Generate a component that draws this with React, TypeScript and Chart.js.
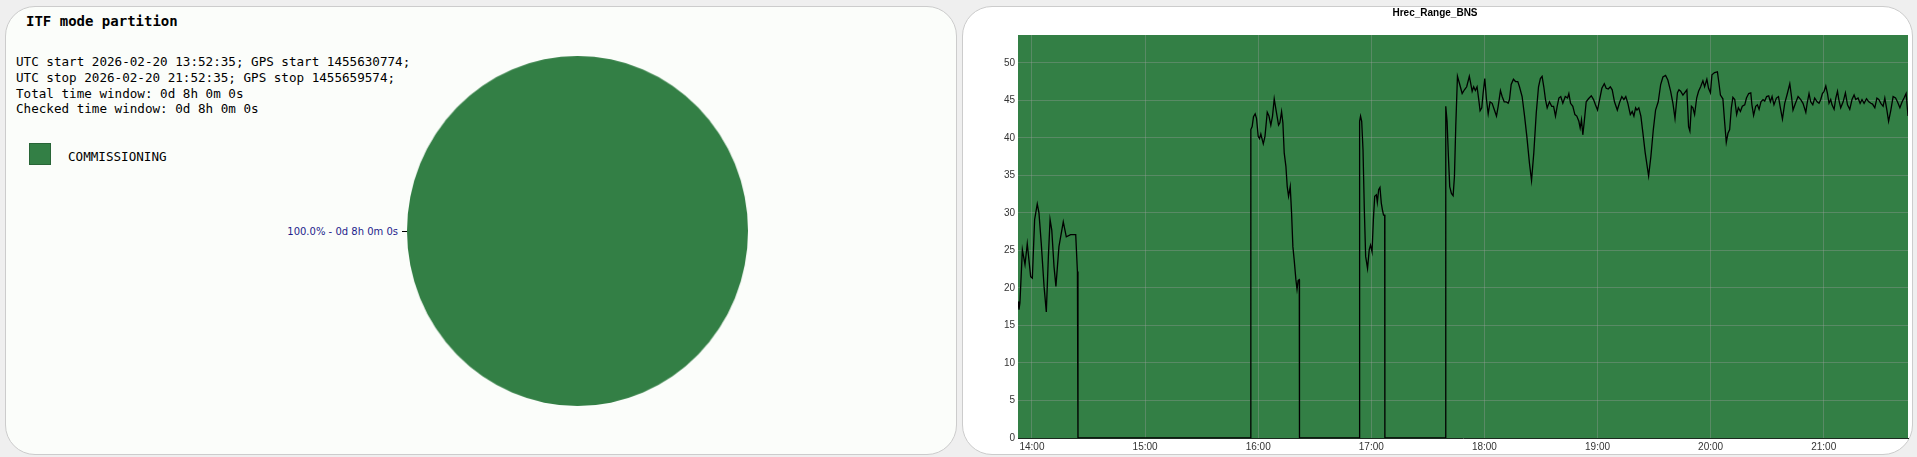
import React, { useEffect, useRef } from "react";
import { Chart, registerables } from "chart.js";

Chart.register(...registerables);

// ---------- data ----------
const infoLines = [
  "UTC start 2026-02-20 13:52:35; GPS start 1455630774;",
  "UTC stop 2026-02-20 21:52:35; GPS stop 1455659574;",
  "Total time window: 0d 8h 0m 0s",
  "Checked time window: 0d 8h 0m 0s",
];
const modeLabels = ["COMMISSIONING"];
const modePercent = [100.0];
const modeDuration = ["0d 8h 0m 0s"];

const xTickLabels = ["14:00", "15:00", "16:00", "17:00", "18:00", "19:00", "20:00", "21:00"];
const yTickValues = [0, 5, 10, 15, 20, 25, 30, 35, 40, 45, 50];
const xMinMinutes = 832.583; // 13:52:35
const xMaxMinutes = 1304.7;
const yMax = 53.7;

// time in minutes since 00:00 UTC, BNS range in Mpc
const seg1T = [832.6, 833.1, 833.6, 834.9, 836.3, 837.5, 839.3, 840.2, 841.4, 842.8, 843.7, 844.9, 846.4, 847.6, 848.7, 849.6, 850.5, 851.7, 852.7, 854.3, 856.6, 858.2, 860.5, 863.2, 864.1];
const seg1V = [18.2, 17.1, 18.0, 25.1, 23.1, 25.9, 21.5, 21.3, 29.1, 31.2, 30.0, 26.0, 20.2, 16.8, 24.2, 29.1, 27.7, 22.8, 20.2, 25.5, 28.8, 26.8, 27.1, 27.1, 22.2];
const gap1T = [864.4, 956.0];
const gap1V = [0, 0];
const seg2T = [956.1, 956.8, 957.5, 958.4, 959.1, 960.0, 960.7, 961.4, 962.7, 963.6, 964.8, 965.7, 966.7, 967.6, 968.5, 969.6, 970.8, 971.5, 972.4, 973.1, 973.8, 974.7, 975.4, 976.1, 977.0, 977.7, 978.4, 979.1, 980.0, 980.6, 981.2, 981.8];
const seg2V = [41.1, 41.5, 42.8, 43.2, 42.6, 40.2, 39.9, 40.5, 39.2, 40.2, 43.4, 42.9, 41.7, 42.9, 45.2, 43.5, 41.7, 42.0, 43.5, 42.0, 38.0, 36.2, 33.5, 32.2, 33.5, 30.0, 25.5, 23.7, 21.1, 19.8, 21.0, 21.1];
const gap2T = [981.9, 1013.7];
const gap2V = [0, 0];
const seg3T = [1013.8, 1014.3, 1014.9, 1015.6, 1016.3, 1017.0, 1018.0, 1018.9, 1019.6, 1020.4, 1021.1, 1021.8, 1022.7, 1023.2, 1023.9, 1024.6, 1025.3, 1025.9, 1026.5, 1027.1];
const seg3V = [42.2, 42.9, 42.2, 38.4, 30.4, 24.2, 22.6, 25.1, 25.7, 24.8, 29.1, 32.2, 32.4, 31.4, 33.1, 33.4, 31.3, 30.4, 29.7, 29.7];
const gap3T = [1027.2, 1059.4];
const gap3V = [0, 0];
const seg4T = [
  1059.5, 1060.2, 1060.9, 1061.6, 1062.5, 1063.4, 1064.1, 1064.8, 1065.7, 1066.7, 1068.2, 1069.4, 1070.6, 1072.0, 1072.7, 1073.5, 1074.3, 1075.2, 1076.1, 1077.0,
  1077.7, 1078.6, 1079.3, 1080.2, 1081.1, 1082.0, 1083.0, 1084.1, 1085.3, 1086.4, 1087.3, 1088.5, 1089.4, 1090.5, 1091.5, 1092.6, 1093.3, 1094.2, 1095.4, 1096.5,
  1097.7, 1098.6, 1100.0, 1101.3, 1102.5, 1103.9, 1105.0, 1106.2, 1107.5, 1108.7, 1109.7, 1110.6, 1111.5, 1112.4, 1113.3, 1114.5, 1115.7, 1116.7, 1117.7, 1118.6,
  1119.5, 1120.5, 1121.6, 1122.9, 1124.1, 1124.8, 1125.7, 1126.9, 1128.0, 1129.0, 1130.1, 1130.8, 1131.5, 1132.2, 1132.9, 1134.0, 1135.2, 1136.7, 1137.9, 1138.9,
  1140.0, 1141.1, 1142.3, 1143.6, 1144.6, 1145.7, 1146.8, 1147.8, 1149.0, 1150.5, 1151.7, 1152.9, 1154.0, 1155.0, 1156.1, 1157.4, 1158.4, 1159.3, 1160.2, 1160.9,
  1161.9, 1163.0, 1164.1, 1165.3, 1167.1, 1168.3, 1169.6, 1170.8, 1172.2, 1173.5, 1174.7, 1176.1, 1177.3, 1178.8, 1180.0, 1181.1, 1182.4, 1183.2, 1184.1, 1185.3,
  1186.2, 1187.4, 1188.3, 1189.0, 1189.8, 1190.6, 1191.5, 1192.6, 1193.6, 1194.7, 1195.9, 1196.8, 1198.0, 1198.9, 1199.9, 1200.7, 1202.1, 1203.6, 1204.4, 1205.2,
  1206.5, 1207.4, 1208.3, 1209.2, 1210.1, 1211.0, 1211.8, 1212.8, 1213.8, 1214.7, 1215.8, 1216.8, 1218.1, 1219.0, 1220.2, 1221.3, 1221.9, 1222.8, 1223.9, 1224.8,
  1225.7, 1226.7, 1227.8, 1228.7, 1229.7, 1230.8, 1231.7, 1232.6, 1233.6, 1234.9, 1236.0, 1237.0, 1238.1, 1239.3, 1240.5, 1242.0, 1242.9, 1243.7, 1245.0, 1246.4,
  1247.8, 1249.0, 1250.5, 1251.2, 1252.2, 1253.1, 1254.2, 1255.2, 1256.5, 1257.5, 1258.4, 1259.3, 1260.2, 1261.1, 1262.0, 1262.8, 1263.7, 1264.4, 1265.5, 1266.4,
  1267.3, 1268.0, 1269.0, 1270.3, 1271.5, 1272.6, 1273.8, 1275.0, 1276.1, 1277.0, 1278.2, 1279.3, 1280.3, 1281.4, 1282.7, 1283.9, 1285.0, 1285.9, 1287.1, 1288.2,
  1289.2, 1290.3, 1291.5, 1292.4, 1293.5, 1294.4, 1295.6, 1296.8, 1298.1, 1299.1, 1300.4, 1301.6, 1302.6, 1303.7, 1304.7,
];
const seg4V = [
  44.2, 42.2, 37.5, 33.5, 32.6, 32.3, 34.8, 41.5, 48.2, 47.3, 45.9, 46.4, 46.8, 48.2, 47.3, 46.2, 46.8, 46.3, 46.8, 45.1,
  43.6, 44.0, 45.9, 47.9, 45.1, 43.2, 44.8, 44.6, 43.7, 42.9, 44.2, 46.3, 45.5, 44.8, 44.8, 44.6, 45.1, 47.1, 47.8, 47.5,
  47.5, 46.8, 45.5, 42.9, 40.2, 36.6, 34.3, 38.0, 43.3, 46.8, 47.9, 48.2, 46.8, 45.1, 44.0, 44.8, 44.2, 44.2, 42.9, 44.2,
  45.3, 45.5, 44.6, 45.5, 45.3, 45.9, 44.6, 44.2, 43.1, 42.9, 42.2, 41.3, 42.4, 40.4, 42.0, 44.8, 45.2, 45.6, 45.1, 44.4,
  43.7, 45.1, 46.6, 47.2, 46.6, 46.5, 46.8, 46.4, 44.8, 43.7, 44.7, 45.5, 45.1, 45.5, 44.6, 43.1, 43.5, 42.9, 44.0, 43.7,
  44.0, 42.9, 40.6, 38.0, 34.9, 37.5, 41.1, 43.7, 44.8, 47.1, 48.1, 48.3, 47.7, 46.2, 44.6, 42.6, 46.0, 46.4, 46.2, 45.7,
  46.0, 46.4, 41.5, 40.9, 44.2, 44.0, 43.1, 45.3, 46.2, 46.8, 47.6, 46.8, 47.8, 46.6, 46.0, 48.4, 48.7, 48.8, 47.3, 45.7,
  45.2, 42.2, 39.4, 40.6, 41.1, 44.0, 45.4, 45.1, 43.1, 44.0, 43.5, 44.2, 44.4, 45.3, 45.9, 46.0, 44.4, 43.0, 44.2, 44.4,
  43.8, 44.8, 45.1, 44.9, 45.5, 45.6, 44.8, 45.5, 44.4, 45.3, 45.5, 44.0, 42.5, 44.6, 45.7, 47.2, 45.5, 43.7, 44.6, 45.5,
  45.1, 44.6, 43.4, 44.6, 45.9, 44.8, 44.4, 45.3, 44.8, 44.6, 45.1, 45.9, 46.2, 46.9, 45.9, 44.6, 45.1, 44.4, 43.8, 45.3,
  46.2, 45.1, 44.0, 44.8, 46.0, 44.4, 43.8, 45.1, 45.7, 45.1, 45.3, 44.6, 45.1, 44.6, 45.2, 44.8, 44.6, 44.5, 44.0, 45.3,
  45.1, 44.6, 44.2, 45.3, 43.7, 42.2, 43.7, 45.5, 45.3, 44.8, 44.0, 44.8, 45.3, 45.9, 42.9,
];

// ---------- styles ----------
const GREEN = "#337f45";
const MONO = "'DejaVu Sans Mono', 'Liberation Mono', monospace";
const SANS = "'Liberation Sans', Arial, sans-serif";

const toMinutes = (s: string) => {
  const [h, m] = s.split(":").map(Number);
  return h * 60 + m;
};

export default function App() {
  const pieRef = useRef<HTMLCanvasElement>(null);
  const lineRef = useRef<HTMLCanvasElement>(null);

  useEffect(() => {
    document.body.style.margin = "0";
    const allT = [...seg1T, ...gap1T, ...seg2T, ...gap2T, ...seg3T, ...gap3T, ...seg4T];
    const allV = [...seg1V, ...gap1V, ...seg2V, ...gap2V, ...seg3V, ...gap3V, ...seg4V];
    const points = allT.map((t, i) => ({ x: t, y: allV[i] }));

    const plotBg = {
      id: "plotBg",
      beforeDraw(chart: any) {
        const { ctx, chartArea } = chart;
        ctx.save();
        ctx.fillStyle = GREEN;
        ctx.fillRect(chartArea.left, chartArea.top, chartArea.right - chartArea.left, chartArea.bottom - chartArea.top);
        ctx.restore();
      },
    };

    const line = new Chart(lineRef.current as HTMLCanvasElement, {
      type: "line",
      data: {
        datasets: [
          {
            data: points,
            borderColor: "#000",
            borderWidth: 1.3,
            pointRadius: 0,
            tension: 0,
            fill: false,
          },
        ],
      },
      options: {
        responsive: false,
        animation: false,
        layout: { padding: { left: 0, right: 5, top: 0, bottom: 0 } },
        plugins: {
          legend: { display: false },
          tooltip: { enabled: false },
          title: {
            display: true,
            text: "Hrec_Range_BNS",
            color: "#000",
            font: { family: SANS, size: 10, weight: "bold" },
            padding: { top: 1.5, bottom: 15.5 },
          },
        },
        scales: {
          x: {
            type: "linear",
            min: xMinMinutes,
            max: xMaxMinutes,
            afterBuildTicks: (s: any) => {
              s.ticks = xTickLabels.map((l) => ({ value: toMinutes(l) }));
            },
            afterFit: (s: any) => {
              s.height = 17;
            },
            ticks: {
              callback: (_v: any, i: number) => xTickLabels[i],
              autoSkip: false,
              maxRotation: 0,
              padding: 3,
              color: "#333",
              font: { family: SANS, size: 10 },
            },
            grid: { color: "rgba(160,160,160,0.35)", drawTicks: false },
            border: { display: true, color: "#1c2a1f", width: 1 },
          },
          y: {
            type: "linear",
            min: 0,
            max: yMax,
            afterBuildTicks: (s: any) => {
              s.ticks = yTickValues.map((v) => ({ value: v }));
            },
            afterFit: (s: any) => {
              s.width = 56;
            },
            ticks: {
              padding: 3,
              color: "#333",
              font: { family: SANS, size: 10 },
            },
            grid: { color: "rgba(160,160,160,0.35)", drawTicks: false },
            border: { display: false },
          },
        },
      },
      plugins: [plotBg],
    } as any);

    const pie = new Chart(pieRef.current as HTMLCanvasElement, {
      type: "pie",
      data: {
        labels: modeLabels,
        datasets: [{ data: modePercent, backgroundColor: [GREEN], borderWidth: 0 }],
      },
      options: {
        responsive: false,
        animation: false,
        layout: { padding: 0 },
        plugins: { legend: { display: false }, tooltip: { enabled: false } },
      },
    } as any);

    return () => {
      line.destroy();
      pie.destroy();
    };
  }, []);

  return (
    <div style={{ position: "fixed", left: 0, top: 0, width: 1917, height: 457, background: "#efefef", overflow: "hidden" }}>
      <div
        style={{
          position: "absolute", left: 5, top: 6, width: 952, height: 449, boxSizing: "border-box",
          border: "1px solid #cccccc", borderRadius: 30, background: "#fbfdfa",
        }}
      />
      <div
        style={{
          position: "absolute", left: 962, top: 6, width: 951, height: 449, boxSizing: "border-box",
          border: "1px solid #cccccc", borderRadius: 30, background: "#ffffff",
        }}
      />
      <div style={{ position: "absolute", left: 26, top: 11, fontFamily: MONO, fontWeight: "bold", fontSize: 14, lineHeight: "20px", color: "#000", whiteSpace: "pre" }}>
        ITF mode partition
      </div>
      {infoLines.map((l, i) => (
        <div key={i} style={{ position: "absolute", left: 16, top: 54 + i * 15.8, fontFamily: MONO, fontSize: 12.6, lineHeight: "15px", color: "#000", whiteSpace: "pre" }}>
          {l}
        </div>
      ))}
      <div style={{ position: "absolute", left: 29, top: 143, width: 22, height: 22, boxSizing: "border-box", background: GREEN, border: "1px solid rgba(0,0,0,0.2)" }} />
      <div style={{ position: "absolute", left: 68, top: 149, fontFamily: MONO, fontSize: 12.6, lineHeight: "16px", color: "#000", whiteSpace: "pre" }}>
        {modeLabels[0]}
      </div>
      <canvas ref={pieRef} width={346} height={346} style={{ position: "absolute", left: 407, top: 56, width: 341, height: 350 }} />
      <div style={{ position: "absolute", left: 402, top: 231, width: 5, height: 1, background: "#000" }} />
      <div style={{ position: "absolute", right: 1917 - 398, top: 225, fontFamily: "'DejaVu Sans', sans-serif", fontSize: 10, lineHeight: "14px", color: "#1e1e8c", whiteSpace: "pre" }}>
        {`${modePercent[0].toFixed(1)}% - ${modeDuration[0]}`}
      </div>
      <canvas ref={lineRef} width={951} height={449} style={{ position: "absolute", left: 962, top: 6, width: 951, height: 449 }} />
    </div>
  );
}
